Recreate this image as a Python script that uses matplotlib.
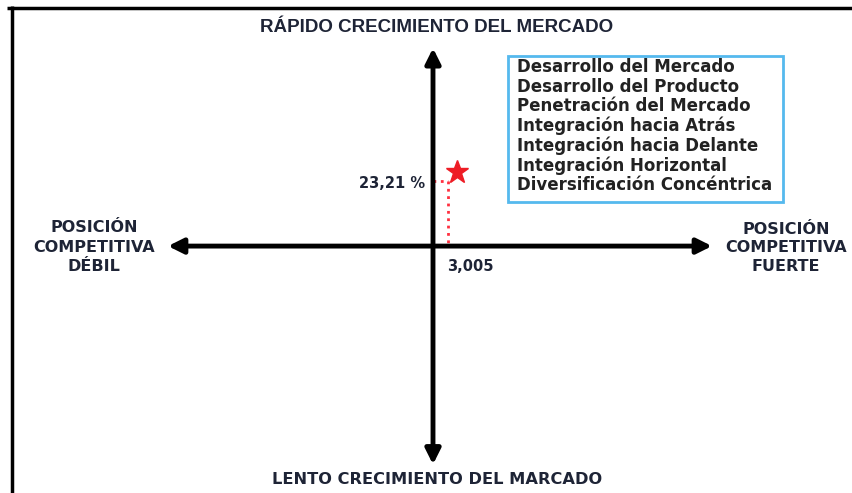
import matplotlib.pyplot as plt
from matplotlib.patches import Rectangle
from matplotlib.transforms import offset_copy

# data
x_value = 3.005
y_value = 23.21
x_label = '3,005'
y_label = '23,21 %'
strategies = ['Desarrollo del Mercado', 'Desarrollo del Producto',
              'Penetración del Mercado', 'Integración hacia Atrás',
              'Integración hacia Delante', 'Integración Horizontal',
              'Diversificación Concéntrica']
top_label = 'RÁPIDO CRECIMIENTO DEL MERCADO'
bottom_label = 'LENTO CRECIMIENTO DEL MARCADO'
left_label = 'POSICIÓN\nCOMPETITIVA\nDÉBIL'
right_label = 'POSICIÓN\nCOMPETITIVA\nFUERTE'

W, H = 852, 493
FONT = ['DejaVu Sans']
TXT = '#1e2436'


def main():
    fig = plt.figure(figsize=(W / 100, H / 100), dpi=100)
    ax = fig.add_axes([0, 0, 1, 1])
    ax.set_xlim(-86.6, 83.8)
    ax.set_ylim(-88.2, 87.9)
    ax.axis('off')

    # quadrant axes
    arrow = dict(arrowstyle='-|>,head_length=0.9,head_width=0.45', lw=3.5,
                 color='black', shrinkA=0, shrinkB=0)
    for end in [(-53, 0), (55.8, 0), (0, 70.7), (0, -78.0)]:
        ax.annotate('', xy=end, xytext=(0, 0), arrowprops=arrow)

    # point and guides
    ax.plot([0, x_value], [y_value, y_value], ':', color='#ff3040', lw=2)
    ax.plot([x_value, x_value], [y_value, 0], ':', color='#ff3040', lw=2)
    star_tr = offset_copy(ax.transData, fig=fig, x=9, y=9, units='dots')
    ax.plot(x_value, y_value, marker='*', ms=17, color='#ee1c25',
            transform=star_tr)
    ax.text(-1.6, y_value - 0.7, y_label, ha='right', va='center',
            fontsize=10.5, fontweight='bold', family=FONT, color=TXT)
    ax.text(x_value - 0.2, -7.2, x_label, ha='left', va='center',
            fontsize=10.5, fontweight='bold', family=FONT, color=TXT)

    # axis labels
    ax.text(437 / W, 1 - 27 / H, top_label, transform=ax.transAxes,
            ha='center', va='center', fontsize=13.5, fontweight='bold',
            family=['Liberation Sans'], color=TXT)
    ax.text(437 / W, 1 - 479 / H, bottom_label, transform=ax.transAxes,
            ha='center', va='center', fontsize=11.7, fontweight='bold',
            family=FONT, color=TXT)
    ax.text(94 / W, 1 - 247 / H, left_label, transform=ax.transAxes,
            ha='center', va='center', fontsize=11.5, fontweight='bold',
            family=FONT, color=TXT, linespacing=1.35)
    ax.text(786 / W, 1 - 248 / H, right_label, transform=ax.transAxes,
            ha='center', va='center', fontsize=11.5, fontweight='bold',
            family=FONT, color=TXT, linespacing=1.3)

    # strategies box
    ax.add_patch(Rectangle((508 / W, 1 - 202 / H), 275 / W, 146 / H,
                           transform=ax.transAxes, fill=False,
                           edgecolor='#55b9ee', lw=2))
    for i, s in enumerate(strategies):
        ax.text(517 / W, 1 - (67 + 19.7 * i) / H, s, transform=ax.transAxes,
                ha='left', va='center', fontsize=12, fontweight='bold',
                family=FONT, color='#222222')

    # frame
    ax.plot([7 / W, 1], [1 - 7.5 / H] * 2, color='black', lw=2.5,
            transform=ax.transAxes, solid_capstyle='butt')
    ax.plot([12 / W] * 2, [1 - 6 / H, 0], color='black', lw=2.5,
            transform=ax.transAxes, solid_capstyle='butt')

    fig.savefig('out.png', dpi=100, facecolor='white')


if __name__ == '__main__':
    main()
